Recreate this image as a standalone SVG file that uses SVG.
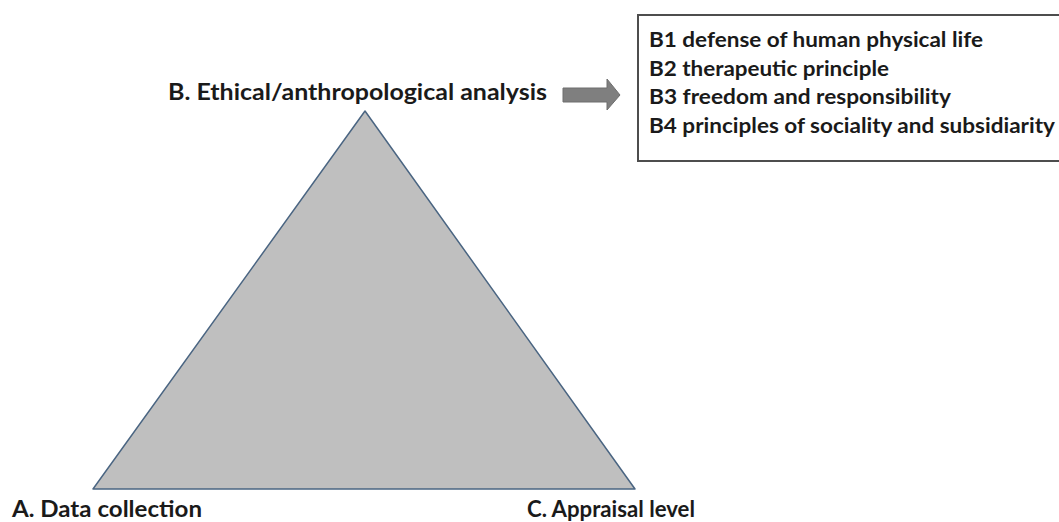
<svg xmlns="http://www.w3.org/2000/svg" width="1059" height="522" viewBox="0 0 1059 522">
<style>
.lbl{font-family:Lato,"Liberation Sans",Arial,sans-serif;font-weight:bold;font-size:22px;fill:#1a1a1a}
.item{font-family:Lato,"Liberation Sans",Arial,sans-serif;font-weight:bold;font-size:21.5px;fill:#1a1a1a}
</style>
<rect width="1059" height="522" fill="#ffffff"/>
<g id="triangle">
<polygon points="365,111 93,489 635,489" fill="#bfbfbf" stroke="#4a6582" stroke-width="1.5" stroke-linejoin="round"/>
</g>
<g id="nodeB">
<text class="lbl" x="168" y="100" textLength="379" lengthAdjust="spacingAndGlyphs">B. Ethical/anthropological analysis</text>
</g>
<g id="nodeA">
<text class="lbl" x="12" y="517" textLength="190" lengthAdjust="spacingAndGlyphs">A. Data collection</text>
</g>
<g id="nodeC">
<text class="lbl" x="527" y="517" textLength="168" lengthAdjust="spacingAndGlyphs">C. Appraisal level</text>
</g>
<g id="connectors">
<polygon points="563,88 607,88 607,79 620,95 607,110 607,102 563,102" fill="#7f7f7f" stroke="#6e6e6e" stroke-width="1"/>
</g>
<g id="boxB">
<rect x="638" y="15" width="440" height="146" fill="#ffffff" stroke="#4d4d4d" stroke-width="2"/>
<text class="item" x="649" y="47" textLength="334" lengthAdjust="spacingAndGlyphs">B1 defense of human physical life</text>
<text class="item" x="649" y="76" textLength="240" lengthAdjust="spacingAndGlyphs">B2 therapeutic principle</text>
<text class="item" x="649" y="104" textLength="302" lengthAdjust="spacingAndGlyphs">B3 freedom and responsibility</text>
<text class="item" x="649" y="133" textLength="406" lengthAdjust="spacingAndGlyphs">B4 principles of sociality and subsidiarity</text>
</g>
</svg>
